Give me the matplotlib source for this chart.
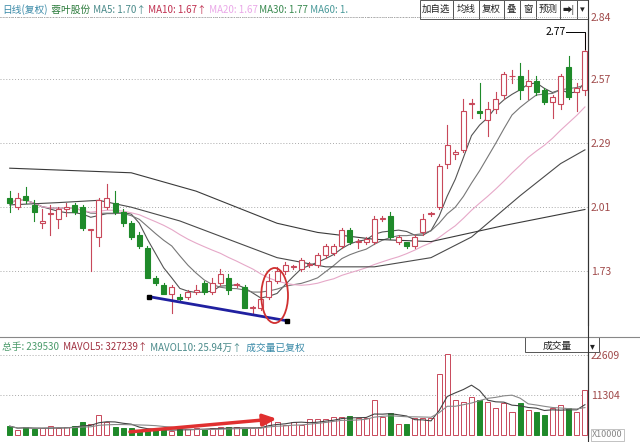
import matplotlib
matplotlib.use('Agg')
import matplotlib.pyplot as plt
from matplotlib.patches import Ellipse, Rectangle
import pandas as pd

plt.rcParams['font.family'] = ['Noto Sans CJK SC', 'DejaVu Sans']

# daily candles (open, close, high, low)
opens  = [2.05,2.01,2.06,2.02,1.94,1.98,1.96,2.00,2.02,2.01,1.91,1.88,2.01,2.03,1.99,1.94,1.89,1.83,1.70,1.67,
          1.63,1.62,1.62,1.64,1.68,1.64,1.68,1.70,1.67,1.66,1.57,1.57,1.62,1.69,1.73,1.75,1.74,1.76,1.76,1.80,
          1.81,1.84,1.91,1.86,1.86,1.86,1.96,1.97,1.86,1.86,1.84,1.90,1.98,2.01,2.20,2.24,2.26,2.46,2.43,2.39,
          2.44,2.50,2.58,2.58,2.54,2.56,2.52,2.47,2.46,2.62,2.51,2.52]
closes = [2.03,2.05,2.04,1.99,1.95,1.98,2.00,2.01,1.99,1.92,1.91,2.04,2.05,1.99,1.94,1.88,1.84,1.70,1.68,1.63,
          1.66,1.61,1.64,1.65,1.64,1.68,1.72,1.65,1.67,1.57,1.57,1.61,1.69,1.73,1.76,1.75,1.78,1.76,1.80,1.84,
          1.84,1.91,1.86,1.86,1.87,1.96,1.96,1.88,1.88,1.84,1.88,1.96,1.98,2.19,2.28,2.25,2.43,2.46,2.42,2.44,
          2.48,2.59,2.58,2.52,2.56,2.51,2.47,2.49,2.58,2.49,2.53,2.69]
highs  = [2.08,2.07,2.10,2.04,2.00,2.02,2.01,2.03,2.03,2.02,1.91,2.05,2.11,2.08,2.00,1.95,1.90,1.84,1.71,1.68,
          1.67,1.63,1.65,1.67,1.69,1.70,1.74,1.72,1.68,1.67,1.58,1.62,1.72,1.75,1.77,1.76,1.79,1.77,1.81,1.85,
          1.85,1.92,1.92,1.87,1.88,1.97,1.97,1.99,1.89,1.86,1.89,1.98,1.99,2.20,2.37,2.26,2.48,2.48,2.55,2.47,
          2.51,2.60,2.61,2.64,2.61,2.58,2.53,2.50,2.59,2.67,2.55,2.77]
lows   = [1.99,2.00,2.03,1.95,1.92,1.89,1.92,1.97,1.98,1.91,1.73,1.84,2.00,1.98,1.93,1.87,1.83,1.70,1.67,1.63,
          1.55,1.60,1.61,1.63,1.63,1.63,1.67,1.63,1.66,1.57,1.55,1.56,1.61,1.68,1.72,1.74,1.73,1.75,1.75,1.79,
          1.80,1.83,1.85,1.83,1.85,1.85,1.95,1.87,1.85,1.83,1.83,1.89,1.97,2.00,2.18,2.22,2.25,2.40,2.40,2.32,
          2.42,2.48,2.55,2.48,2.48,2.50,2.46,2.40,2.44,2.48,2.43,2.50]

# long moving averages at sample candles
ma30_idx = [0, 6, 11, 15, 21, 27, 33, 39, 45, 52, 57, 63, 68, 71]
ma30_val = [2.02, 2.03, 2.04, 2.01, 1.95, 1.87, 1.79, 1.75, 1.75, 1.79, 1.88, 2.06, 2.20, 2.26]
ma60_idx = [0, 15, 23, 33, 38, 45, 52, 61, 71]
ma60_val = [2.18, 2.16, 2.08, 1.94, 1.90, 1.87, 1.86, 1.93, 2.00]

volumes = [2543,1413,2355,1601,1884,2543,1884,2355,2638,3768,3109,5652,3768,2355,1884,1884,1413,1601,1413,1413,
           1225,1884,1601,1884,1790,1884,2166,2166,2166,1884,1884,2355,5181,3768,2826,3768,2826,4427,4427,4427,
           4993,5181,5369,4710,4710,9891,4993,6123,3014,3014,4710,4710,4710,17427,23079,9891,9420,10833,9891,9420,
           7536,8949,6594,8949,7065,6594,5652,7536,8478,7536,6594,12905]

price_ticks = [1.73, 2.01, 2.29, 2.57, 2.84]
vol_ticks = [11304, 22609]

up_col = '#c8485a'
dn_col = '#1f8a2a'
tick_col = '#a04a4a'

n = len(closes)
x = list(range(n))
up = [c >= o for o, c in zip(opens, closes)]
cs = pd.Series(closes)
ma5 = cs.rolling(5, min_periods=1).mean()
ma10 = cs.rolling(10, min_periods=1).mean()
ma20 = cs.rolling(20, min_periods=1).mean()
vs = pd.Series(volumes)
mav5 = vs.rolling(5, min_periods=1).mean()
mav10 = vs.rolling(10, min_periods=1).mean()

fig = plt.figure(figsize=(6.4, 4.42), dpi=100)
ax = fig.add_axes([0.0, 0.265, 0.919, 0.697])
axv = fig.add_axes([0.0, 0.011, 0.919, 0.208])

xlim = (-1.2, n - 0.6)
for a in (ax, axv):
    a.set_xlim(*xlim)
    for s in ('left', 'top', 'bottom'):
        a.spines[s].set_visible(False)
    a.spines['right'].set_color('#333333')
    a.yaxis.tick_right()
    a.set_xticks([])
    a.tick_params(axis='y', length=0, labelsize=7.5, labelcolor=tick_col, pad=2)

# price panel
ax.set_ylim(1.497, 2.84)
ax.set_yticks(price_ticks)
ax.set_yticklabels([f'{t:.2f}' for t in price_ticks])
for t in price_ticks:
    ax.axhline(t, color='#aaaaaa', lw=0.7, ls=(0, (1, 2)), zorder=0)

w = 0.62
for i in x:
    o, c, h, l = opens[i], closes[i], highs[i], lows[i]
    col = up_col if up[i] else dn_col
    lo_b, hi_b = min(o, c), max(o, c)
    ax.plot([i, i], [l, lo_b], color=col, lw=0.8, zorder=2)
    ax.plot([i, i], [hi_b, h], color=col, lw=0.8, zorder=2)
    hgt = max(hi_b - lo_b, 0.004)
    ax.add_patch(Rectangle((i - w / 2, lo_b), w, hgt, facecolor='white' if up[i] else dn_col,
                           edgecolor=col, lw=0.8, zorder=3))

ax.plot(x, ma5, color='#555555', lw=0.8, zorder=1)
ax.plot(x, ma10, color='#777777', lw=0.8, zorder=1)
ax.plot(x, ma20, color='#e6a8c8', lw=0.8, zorder=1)
ax.plot(ma30_idx, ma30_val, color='#4a4a4a', lw=0.8, zorder=1)
ax.plot(ma60_idx, ma60_val, color='#3a3a3a', lw=0.8, zorder=1)

# annotations
ax.plot([17.2, 34.2], [1.62, 1.515], color='#2020a0', lw=2, zorder=4)
ax.plot([17.2, 34.2], [1.62, 1.515], 's', color='black', ms=3.5, zorder=5)
ax.add_patch(Ellipse((32.7, 1.625), 3.3, 0.24, fill=False, edgecolor='#d03030', lw=1.3, zorder=6))
ax.text(n - 3.4, 2.775, '2.77', fontsize=7.5, va='center', ha='right')
ax.plot([n - 3.3, n - 1, n - 1], [2.775, 2.775, 2.70], color='black', lw=0.7)

# header
hdr = [('日线(复权)', '#3a8aa8'), ('  蓉叶股份', '#2a7a3a'), (' MA5: 1.70↑', '#4a8a8a'),
       (' MA10: 1.67↑', '#c03050'), (' MA20: 1.67', '#eaa8e8'), (' MA30: 1.77', '#3a8a50'),
       (' MA60: 1.', '#4a9a9a')]
xt = 0.003
for txt, col in hdr:
    t = fig.text(xt, 0.978, txt, fontsize=7, color=col, va='center', ha='left')
    fig.canvas.draw()
    xt += t.get_window_extent().width / fig.bbox.width
btns = ['加自选', '均线', '复权', '叠', '窗', '预测', '➡|', '▾']
bw = [0.052, 0.041, 0.038, 0.025, 0.025, 0.038, 0.027, 0.017]
bx = 0.919 - sum(bw)
for b, wd in zip(btns, bw):
    fig.patches.append(Rectangle((bx, 0.957), wd, 0.043, transform=fig.transFigure,
                                 facecolor='white', edgecolor='#555555', lw=0.7))
    fig.text(bx + wd / 2, 0.978, b, fontsize=6.8, ha='center', va='center', color='#222222')
    bx += wd
fig.add_artist(plt.Line2D([0, 0.919], [0.962, 0.962], color='#999999', lw=0.6, ls=(0, (1, 1.5)),
                          transform=fig.transFigure))

# separator between panels
fig.add_artist(plt.Line2D([0, 1], [0.238, 0.238], color='#888888', lw=0.8, transform=fig.transFigure))
fig.add_artist(plt.Line2D([0.919, 0.919], [0, 1], color='#333333', lw=0.8, transform=fig.transFigure))

# volume panel
axv.set_ylim(-565, 25435)
axv.set_yticks(vol_ticks)
axv.set_yticklabels([str(t) for t in vol_ticks])
for t in vol_ticks:
    axv.axhline(t, color='#aaaaaa', lw=0.7, ls=(0, (1, 2)), zorder=0)
for i in x:
    col = up_col if up[i] else dn_col
    axv.bar(i, volumes[i], width=0.62, facecolor='white' if up[i] else dn_col, edgecolor=col, lw=0.7, zorder=2)
axv.plot(x, mav5, color='#444444', lw=0.8, zorder=3)
axv.plot(x, mav10, color='#888888', lw=0.8, zorder=3)
axv.annotate('', xy=(33.3, 4700), xytext=(14.5, 850),
             arrowprops=dict(arrowstyle='-|>,head_length=0.8,head_width=0.35', color='#e03030', lw=2.5))
fig.text(0.925, 0.016, 'X10000', fontsize=6.5, color='#888888', va='center', ha='left',
         bbox=dict(facecolor='white', edgecolor='#aaaaaa', lw=0.5, pad=1))

vhdr = [('总手: 239530 ', '#4a9a6a'), (' MAVOL5: 327239↑', '#a03040'), (' MAVOL10: 25.94万↑', '#4a8a8a'),
        ('  成交量已复权', '#3a8aa8')]
xt = 0.003
for txt, col in vhdr:
    t = fig.text(xt, 0.214, txt, fontsize=7, color=col, va='center', ha='left')
    fig.canvas.draw()
    xt += t.get_window_extent().width / fig.bbox.width
fig.patches.append(Rectangle((0.821, 0.203), 0.115, 0.034, transform=fig.transFigure,
                             facecolor='white', edgecolor='#555555', lw=0.7))
fig.text(0.87, 0.218, '成交量', fontsize=7, ha='center', va='center', color='#222222')
fig.text(0.925, 0.218, '▾', fontsize=7, ha='center', va='center', color='#222222')

fig.savefig('out.png', dpi=100)
